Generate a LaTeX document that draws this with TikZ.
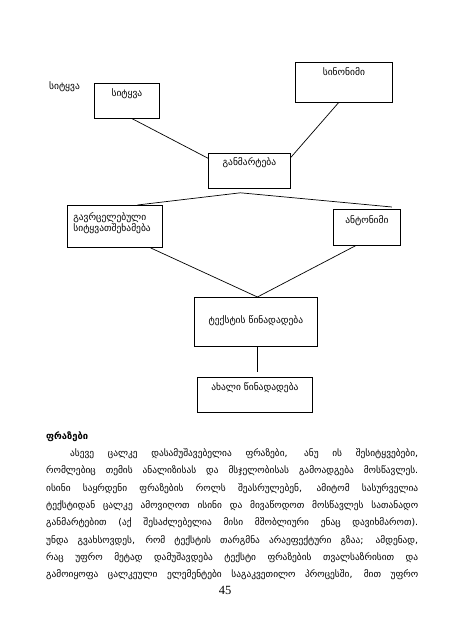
\documentclass[tikz,border=0pt]{standalone}
\usepackage{fontspec}
\setmainfont{DejaVu Sans}
\newfontfamily\pagenumfont{Liberation Serif}
\usetikzlibrary{positioning}

\begin{document}
\begin{tikzpicture}[
    x=1pt, y=-1pt,
    box/.style={draw, line width=0.8pt, inner sep=0pt, anchor=north west,
        font=\fontsize{9.5}{11}\selectfont},
    link/.style={line width=0.7pt}
]
\useasboundingbox (0,0) rectangle (450,640);

% Nodes
\node[font=\fontsize{9.5}{11}\selectfont] (wordlabel) at (64.5,87) {სიტყვა};
\node[box, minimum width=65pt, text height=13pt, text depth=22pt] (word) at (94,83) {სიტყვა};
\node[box, minimum width=97pt, text height=13pt, text depth=27pt] (synonym) at (295,62) {სინონიმი};
\node[box, minimum width=82pt, text height=12pt, text depth=23pt] (definition) at (208,153) {განმარტება};
\node[box, text width=83pt, inner xsep=6pt, align=left, text height=15pt, text depth=27pt] (collocation) at (67,205)
    {გავრცელებული\\სიტყვათშეხამება};
\node[box, minimum width=67pt, text height=14pt, text depth=22pt] (antonym) at (333,209) {ანტონიმი};
\node[box, minimum width=123pt, text height=26pt, text depth=23pt] (textsentence) at (194,297) {ტექსტის წინადადება};
\node[box, minimum width=115pt, text height=13pt, text depth=22pt] (newsentence) at (197,377) {ახალი წინადადება};

% Lines between the boxes
\draw[link] (word.-73) -- (definition.163);
\draw[link] (synonym.-105) -- (definition.18);
\draw[link] ([xshift=-9pt,yshift=-4pt]definition.south) -- ([xshift=22.5pt]collocation.north);
\draw[link] ([xshift=-9pt,yshift=-4pt]definition.south) -- ([xshift=25pt,yshift=2pt]antonym.north);
\draw[link] ([xshift=35.5pt]collocation.south) -- ([xshift=1.5pt]textsentence.north);
\draw[link] ([xshift=-11.5pt]antonym.south) -- ([xshift=1.5pt]textsentence.north);
\draw[link, shorten >=5pt] ([xshift=1.5pt]textsentence.south) -- ([xshift=1.5pt]textsentence.south |- newsentence.north);

% Text below
\node[anchor=base west, inner sep=0pt, font=\bfseries\fontsize{9.4}{11}\selectfont] (heading) at (46,439) {ფრაზები};
\node[anchor=base west, text width=372pt, align=justify, inner sep=0pt,
    font=\fontsize{9.4}{17.3}\selectfont] (body) at (46,456.5) {%
    \hspace*{24pt}ასევე ცალკე დასამუშავებელია ფრაზები, ანუ ის შესიტყვებები,\linebreak
    რომლებიც თემის ანალიზისას და მსჯელობისას გამოადგება მოსწავლეს.\linebreak
    ისინი საყრდენი ფრაზების როლს შეასრულებენ, ამიტომ სასურველია\linebreak
    ტექსტიდან ცალკე ამოვიღოთ ისინი და მივაწოდოთ მოსწავლეს სათანადო\linebreak
    განმარტებით (აქ შესაძლებელია მისი მშობლიური ენაც დავიხმაროთ).\linebreak
    უნდა გვახსოვდეს, რომ ტექსტის თარგმნა არაეფექტური გზაა; ამდენად,\linebreak
    რაც უფრო მეტად დამუშავდება ტექსტი ფრაზების თვალსაზრისით და\linebreak
    გამოიყოფა ცალკეული ელემენტები საგაკვეთილო პროცესში, მით უფრო\linebreak};
\node[font=\pagenumfont\fontsize{12.5}{14}\selectfont] (pagenum) at (225,590) {45};

\end{tikzpicture}
\end{document}
